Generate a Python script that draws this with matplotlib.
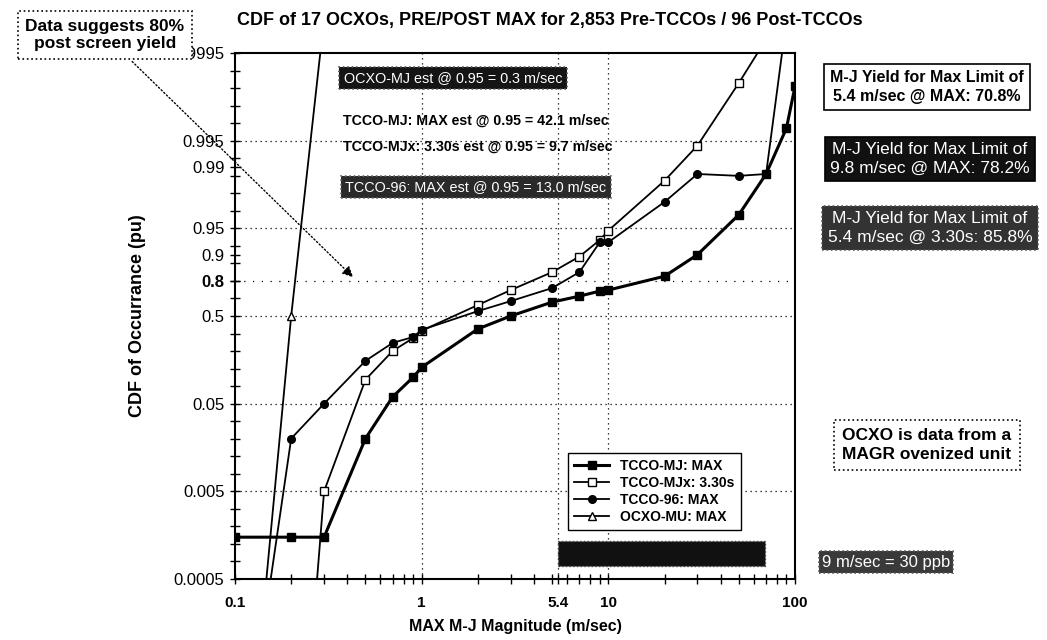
import numpy as np
import matplotlib
matplotlib.use('Agg')
import matplotlib.pyplot as plt
from matplotlib.ticker import FixedLocator, FixedFormatter, NullFormatter, LogLocator
from matplotlib.patches import Rectangle

plt.rcParams['font.family'] = ['Liberation Sans', 'DejaVu Sans']

# MAX M-J magnitude (m/sec) and CDF values
mj_x = [0.1, 0.2, 0.3, 0.5, 0.7, 0.9, 1, 2, 3, 5, 7, 9, 10, 20, 30, 50, 70, 90, 100]
mj_p = [0.0015, 0.0015, 0.0015, 0.02, 0.06, 0.10, 0.13, 0.356, 0.5, 0.653, 0.703, 0.74,
        0.747, 0.824, 0.90, 0.965, 0.988, 0.9964, 0.9988]

mjx_x = [0.27, 0.3, 0.5, 0.7, 0.9, 1, 2, 3, 5, 7, 9, 10, 20, 30, 50, 70]
mjx_p = [0.0003, 0.005, 0.094, 0.20, 0.28, 0.34, 0.625, 0.747, 0.842, 0.895, 0.932, 0.947,
         0.9857, 0.9943, 0.9989, 0.99965]

t96_x = [0.15, 0.2, 0.3, 0.5, 0.7, 0.9, 1, 2, 3, 5, 7, 9, 10, 20, 30, 50, 70, 88]
t96_p = [0.0003, 0.02, 0.05, 0.154, 0.247, 0.288, 0.347, 0.56, 0.662, 0.76, 0.842, 0.928,
         0.928, 0.975, 0.988, 0.9874, 0.988, 0.9997]

ocxo_x = [0.144, 0.2, 0.293]
ocxo_p = [0.0003, 0.5, 0.99968]

ytick_vals = [0.0005, 0.005, 0.05, 0.5, 0.8, 0.9, 0.95, 0.99, 0.995, 0.9995]
ytick_labels = ['0.0005', '0.005', '0.05', '0.5', '0.8', '0.9', '0.95', '0.99', '0.995', '0.9995']
ygrid_vals = [0.005, 0.05, 0.5, 0.95, 0.995]
xtick_vals = [0.1, 1, 5.4, 10, 100]
xtick_labels = ['0.1', '1', '5.4', '10', '100']
xgrid_vals = [1, 5.4, 10]


def prob_fwd(p):
    p = np.clip(np.asarray(p, dtype=float), 1e-12, 1 - 1e-12)
    return np.where(p < 0.5, np.log10(2 * p), -np.log10(2 * (1 - p)))


def prob_inv(t):
    t = np.asarray(t, dtype=float)
    return np.where(t < 0, 10 ** np.minimum(t, 0) / 2, 1 - 10 ** (-np.maximum(t, 0)) / 2)


W, H = 1047, 640
fig = plt.figure(figsize=(W / 100, H / 100), dpi=100)
ax = fig.add_axes([235 / W, 1 - 579 / H, 560 / W, 526 / H])
ax.set_xscale('log')
ax.set_yscale('function', functions=(prob_fwd, prob_inv))
ax.set_xlim(0.1, 100)
ax.set_ylim(0.0005, 0.9995)

for v in ygrid_vals:
    ax.axhline(v, color='k', lw=0.9, ls=(0, (1, 3)), zorder=0)
ax.axhline(0.8, color='k', lw=0.9, ls=(0, (1, 6)), zorder=0)
for v in xgrid_vals:
    ax.axvline(v, color='k', lw=0.9, ls=(0, (1, 3)), zorder=0)

ax.plot(mj_x, mj_p, '-s', color='k', lw=2.2, ms=5.5, mfc='k', label='TCCO-MJ: MAX')
ax.plot(mjx_x, mjx_p, '-s', color='k', lw=1.3, ms=6, mfc='white', mew=1, label='TCCO-MJx: 3.30s')
ax.plot(t96_x, t96_p, '-o', color='k', lw=1.3, ms=5.5, mfc='k', label='TCCO-96: MAX')
ax.plot(ocxo_x, ocxo_p, '-^', color='k', lw=1.3, ms=6, mfc='white', mew=1, label='OCXO-MU: MAX')

ax.yaxis.set_major_locator(FixedLocator(ytick_vals))
ax.yaxis.set_major_formatter(FixedFormatter(ytick_labels))
ax.yaxis.set_minor_locator(FixedLocator(prob_inv(np.arange(-3, 3.01, 0.2))))
ax.yaxis.set_minor_formatter(NullFormatter())
ax.xaxis.set_major_locator(FixedLocator(xtick_vals))
ax.xaxis.set_major_formatter(FixedFormatter(xtick_labels))
ax.xaxis.set_minor_locator(LogLocator(subs=np.arange(2, 10)))
ax.xaxis.set_minor_formatter(NullFormatter())
ax.tick_params(which='both', direction='inout', length=7, width=1)
ax.tick_params(axis='y', pad=4, labelsize=12)
ax.tick_params(axis='x', pad=9, labelsize=11)
for lbl in ax.get_xticklabels():
    lbl.set_fontweight('bold')
ax.get_yticklabels()[4].set_fontweight('bold')
for s in ax.spines.values():
    s.set_linewidth(1.5)

ax.set_ylabel('CDF of Occurrance (pu)', fontsize=13, fontweight='bold')
ax.yaxis.set_label_coords(-0.159, 0.5)
ax.set_xlabel('MAX M-J Magnitude (m/sec)', fontsize=11.5, fontweight='bold')
ax.xaxis.set_label_coords(0.5, -0.076)

ax.legend(loc='upper left', bbox_to_anchor=(0.595, 0.2395), borderaxespad=0, frameon=True,
          fancybox=False, edgecolor='k', framealpha=1, prop={'weight': 'bold', 'size': 10},
          handlelength=2.5, labelspacing=0.2, borderpad=0.45)

fig.text(550 / W, 1 - 20 / H, 'CDF of 17 OCXOs, PRE/POST MAX for 2,853 Pre-TCCOs / 96 Post-TCCOs',
         ha='center', va='center', fontsize=13, fontweight='bold')


def ftext(x, y, s, fc=None, ec='k', tc='k', ls='-', size=9, weight='normal', ha='center', pad=0.3):
    box = None
    if fc is not None:
        box = dict(boxstyle='square,pad=%s' % pad, fc=fc, ec=ec, lw=1.2, ls=ls)
    return fig.text(x / W, 1 - y / H, s, ha=ha, va='center', fontsize=size, fontweight=weight,
                    color=tc, bbox=box, linespacing=1.3, zorder=5)


ftext(453, 78, 'OCXO-MJ est @ 0.95 = 0.3 m/sec', fc='#151515', ec='#555555', tc='white', ls=':',
      size=10.4)
ftext(343, 121, 'TCCO-MJ: MAX est @ 0.95 = 42.1 m/sec', ha='left', weight='bold', size=10.2)
ftext(343, 147, 'TCCO-MJx: 3.30s est @ 0.95 = 9.7 m/sec', ha='left', weight='bold', size=10.2)
ftext(476, 187, 'TCCO-96: MAX est @ 0.95 = 13.0 m/sec', fc='#2a2a2a', ec='#666666', tc='white',
      ls=':', size=10.4)

ftext(927, 87, 'M-J Yield for Max Limit of\n5.4 m/sec @ MAX: 70.8%', fc='white', size=11.5,
      weight='bold', pad=0.4)
ftext(930, 159, 'M-J Yield for Max Limit of\n9.8 m/sec @ MAX: 78.2%', fc='#111111', tc='white',
      size=12.5, pad=0.3)
ftext(930, 228, 'M-J Yield for Max Limit of\n5.4 m/sec @ 3.30s: 85.8%', fc='#333333', ec='#555555',
      tc='white', ls=':', size=12.5, pad=0.3)
ftext(927, 445, 'OCXO is data from a\nMAGR ovenized unit', fc='white', ls=':', size=12.5,
      weight='bold', pad=0.5)
ftext(886, 562, '9 m/sec = 30 ppb', fc='#3a3a3a', ec='#555555', tc='white', ls=':', size=12,
      pad=0.2)

fig.patches.append(Rectangle((558 / W, 1 - 566 / H), 207 / W, 25 / H, transform=fig.transFigure,
                             fc='#111111', ec='#444444', ls=':', lw=1, zorder=5))

ax.annotate('Data suggests 80%\npost screen yield', xy=(0.44, 0.81), xycoords='data',
            xytext=(105 / W, 1 - 35 / H), textcoords='figure fraction',
            ha='center', va='center', fontsize=12.5, fontweight='bold', linespacing=1.2,
            bbox=dict(boxstyle='square,pad=0.45', fc='white', ec='k', ls=':', lw=1.2),
            arrowprops=dict(arrowstyle='-|>', color='k', lw=1, ls=':', mutation_scale=16),
            annotation_clip=False, zorder=6)

fig.savefig('out.png', dpi=100)
